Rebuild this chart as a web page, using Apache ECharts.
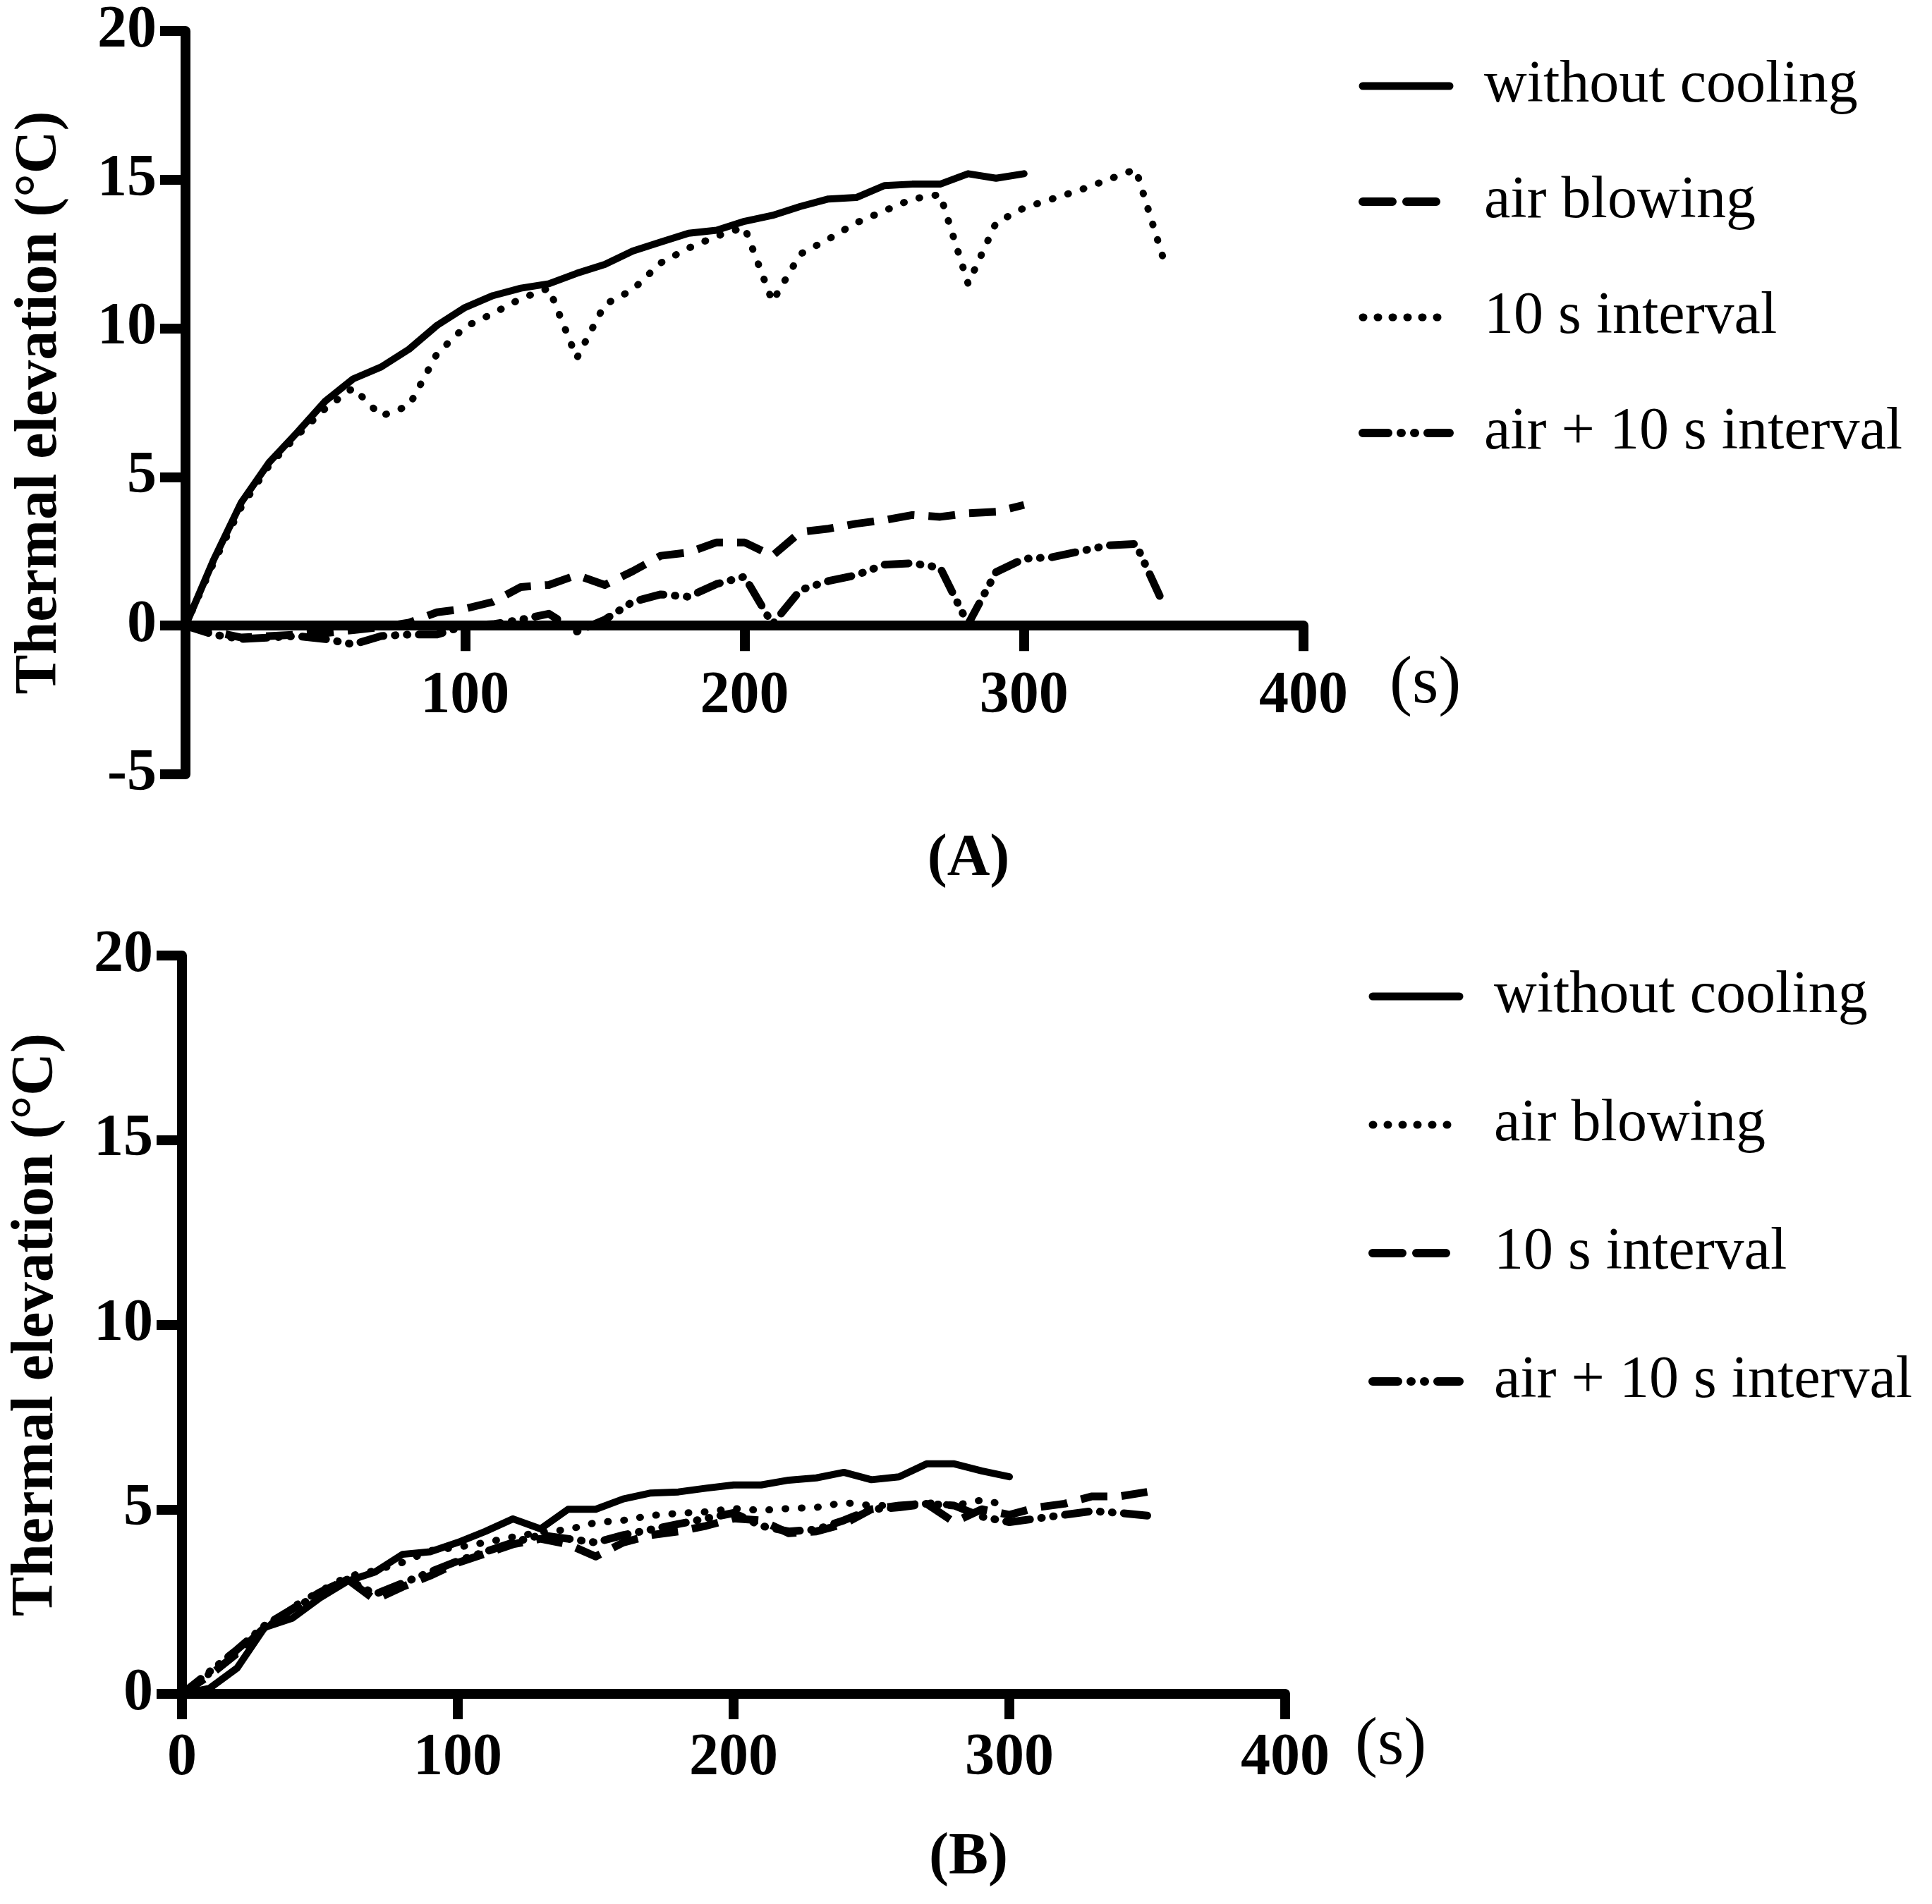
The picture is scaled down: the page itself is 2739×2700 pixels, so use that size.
<!DOCTYPE html>
<html>
<head>
<meta charset="utf-8">
<script src="https://cdn.jsdelivr.net/npm/echarts@6/dist/echarts.min.js"></script>
<style>
  html, body { margin: 0; padding: 0; background: #fff; }
  #main { width: 2739px; height: 2700px; }
</style>
</head>
<body>
<div id="main"></div>
<script>
// time points (s)
var t300 = [0, 10, 20, 30, 40, 50, 60, 70, 80, 90, 100, 110, 120, 130, 140, 150, 160, 170, 180, 190, 200,
  210, 220, 230, 240, 250, 260, 270, 280, 290, 300];
var t350 = [0, 10, 20, 30, 40, 50, 60, 70, 80, 90, 100, 110, 120, 130, 140, 150, 160, 170, 180, 190, 200,
  210, 220, 230, 240, 250, 260, 270, 280, 290, 300, 310, 320, 330, 340, 350];

// panel A
var noCoolA = [0, 2.2, 4.15, 5.5, 6.5, 7.55, 8.3, 8.7, 9.3, 10.1, 10.7, 11.1, 11.35, 11.5, 11.85, 12.15,
  12.6, 12.9, 13.2, 13.3, 13.6, 13.8, 14.1, 14.35, 14.4, 14.8, 14.85, 14.85, 15.2, 15.05, 15.2];
var airA = [0, -0.2, -0.4, -0.35, -0.3, -0.25, -0.15, -0.05, 0.1, 0.45, 0.57, 0.8, 1.3, 1.37, 1.7, 1.37,
  1.83, 2.35, 2.46, 2.8, 2.8, 2.35, 3.15, 3.26, 3.43, 3.55, 3.72, 3.66, 3.78, 3.83, 4.06];
var intA = [0, 2.1, 4.0, 5.4, 6.4, 7.3, 8.0, 7.05, 7.4, 9.15, 10.05, 10.5, 11.0, 11.35, 9.0, 10.8, 11.3,
  12.2, 12.7, 13.1, 13.4, 10.9, 12.5, 13.0, 13.55, 13.95, 14.35, 14.5, 11.5, 13.55, 14.05, 14.35, 14.65,
  15.0, 15.35, 12.3];
var airIntA = [0, -0.3, -0.45, -0.4, -0.35, -0.45, -0.63, -0.35, -0.3, -0.3, 0, 0.05, 0.2, 0.4, -0.2, 0.2,
  0.8, 1.05, 0.97, 1.4, 1.65, 0.05, 1.2, 1.5, 1.7, 2.05, 2.1, 1.95, 0.05, 1.8, 2.25, 2.3, 2.5, 2.7, 2.75, 0.7];

// panel B
var noCoolB = [0, 0.15, 0.7, 1.8, 2.05, 2.6, 3.05, 3.3, 3.78, 3.85, 4.1, 4.4, 4.74, 4.47, 5.0, 5.0, 5.28,
  5.44, 5.47, 5.57, 5.66, 5.66, 5.79, 5.85, 6.0, 5.8, 5.88, 6.23, 6.23, 6.04, 5.88];
var airB = [0, 0.55, 1.1, 1.75, 2.35, 2.78, 3.18, 3.34, 3.56, 3.88, 3.97, 4.1, 4.25, 4.38, 4.45, 4.64, 4.7,
  4.83, 4.89, 4.93, 5.02, 4.97, 5.02, 5.05, 5.18, 5.1, 5.1, 5.18, 5.1, 5.25, 5.1];
var intB = [0, 0.5, 1.1, 1.8, 2.3, 2.75, 3.1, 2.55, 2.9, 3.2, 3.55, 3.8, 4.05, 4.2, 4.05, 3.72, 4.1, 4.3,
  4.4, 4.55, 4.75, 4.7, 4.35, 4.4, 4.6, 5.0, 5.1, 5.15, 4.65, 5.0, 4.85, 5.05, 5.15, 5.35, 5.35, 5.47];
var airIntB = [0, 0.6, 1.2, 1.85, 2.3, 2.7, 3.1, 2.7, 3.0, 3.3, 3.6, 3.85, 4.1, 4.3, 4.2, 4.1, 4.3, 4.45,
  4.6, 4.75, 4.9, 4.55, 4.4, 4.45, 4.7, 5.0, 5.05, 5.15, 5.1, 4.8, 4.65, 4.75, 4.85, 4.95, 4.9, 4.83];

var legendNames = ['without cooling', 'air blowing', '10 s interval', 'air + 10 s interval'];

var FONT = 'Liberation Serif';
var solid = { type: 'solid', width: 10, color: '#000', cap: 'round', join: 'round' };
var dashed = { type: [38, 20], width: 11, color: '#000', cap: 'butt', join: 'round' };
var dotted = { type: [1, 22], width: 10, color: '#000', cap: 'round', join: 'round' };
var dashDot = { type: [34, 16, 1, 16, 1, 16], width: 11, color: '#000', cap: 'round', join: 'round' };

// legend keys (short sample of each line)
var keySolid = { type: 'solid', width: 11, color: '#000', cap: 'round' };
var keyDashed = { type: [42, 20], width: 12, color: '#000', cap: 'round', dashOffset: 0 };
var keyDotted = { type: [1, 20], width: 11, color: '#000', cap: 'round' };
var keyDashDot = { type: [36, 18, 1, 18, 1, 18], width: 12, color: '#000', cap: 'round' };

function pairs(xs, ys) {
  return ys.map(function (v, i) { return [xs[i], v]; });
}

function line(name, xi, xs, ys, style) {
  return {
    name: name,
    type: 'line',
    xAxisIndex: xi,
    yAxisIndex: xi,
    data: pairs(xs, ys),
    symbol: 'none',
    lineStyle: style,
    itemStyle: { color: '#000' },
    animation: false
  };
}

function axisX(gi, gap, nameTop, margin, offset, hideZero) {
  return {
    type: 'value', gridIndex: gi, min: 0, max: 400, interval: 100,
    position: 'bottom', offset: offset,
    name: '(s)', nameLocation: 'end', nameGap: gap,
    nameTextStyle: { fontFamily: FONT, fontSize: 96, color: '#000', align: 'left', verticalAlign: 'top',
      padding: [nameTop, 0, 0, 0] },
    axisLine: { onZero: false, lineStyle: { color: '#000', width: 14 } },
    axisTick: { show: true, length: 36, lineStyle: { color: '#000', width: 14 } },
    axisLabel: { fontFamily: FONT, fontWeight: 'bold', fontSize: 84, color: '#000', margin: margin,
      formatter: function (v) { return (hideZero && v === 0) ? '' : String(v); } },
    splitLine: { show: false }
  };
}

function axisY(gi, min) {
  return {
    type: 'value', gridIndex: gi, min: min, max: 20, interval: 5,
    name: 'Thermal elevation (°C)', nameLocation: 'middle', nameGap: 164, nameRotate: 90,
    nameTextStyle: { fontFamily: FONT, fontWeight: 'bold', fontSize: 84, color: '#000' },
    axisLine: { onZero: false, lineStyle: { color: '#000', width: 14 } },
    axisTick: { show: true, length: 36, lineStyle: { color: '#000', width: 14 } },
    axisLabel: { fontFamily: FONT, fontWeight: 'bold', fontSize: 84, color: '#000', margin: 41 },
    splitLine: { show: false }
  };
}

function legend(suffix, keys, left, top, gap) {
  return {
    orient: 'vertical', left: left, top: top,
    itemWidth: 123, itemHeight: 14, itemGap: gap,
    selectedMode: false,
    data: legendNames.map(function (n, i) {
      return { name: n + suffix, lineStyle: keys[i], itemStyle: { opacity: 0 } };
    }),
    formatter: function (n) { return n.replace(suffix, ''); },
    textStyle: { fontFamily: FONT, fontSize: 84, color: '#000', lineHeight: 90, padding: [0, 0, 0, 44] }
  };
}

var chart = echarts.init(document.getElementById('main'), null, { renderer: 'canvas' });

var option = {
  backgroundColor: '#fff',
  animation: false,
  title: [
    { text: '{p|(}{b|A}{p|)}', left: 1368, top: 1172, textAlign: 'center',
      textStyle: { rich: { p: { fontFamily: FONT, fontSize: 84, color: '#000' },
        b: { fontFamily: FONT, fontSize: 84, fontWeight: 'bold', color: '#000' } } } },
    { text: '{p|(}{b|B}{p|)}', left: 1368, top: 2588, textAlign: 'center',
      textStyle: { rich: { p: { fontFamily: FONT, fontSize: 84, color: '#000' },
        b: { fontFamily: FONT, fontSize: 84, fontWeight: 'bold', color: '#000' } } } }
  ],
  legend: [
    legend(' #A', [keySolid, keyDashed, keyDotted, keyDashDot], 1921, 72, 74),
    legend(' #B', [keySolid, keyDotted, keyDashed, keyDashDot], 1935, 1363, 92)
  ],
  grid: [
    { left: 263, top: 44, width: 1585, height: 1054, outerBoundsMode: 'none', containLabel: false },
    { left: 258, top: 1355, width: 1564, height: 1047, outerBoundsMode: 'none', containLabel: false }
  ],
  xAxis: [
    // panel A: axis sits at y = 0, i.e. 5/25 of the plot height above the bottom edge
    axisX(0, 122, 36, 59, -1054 * 5 / 25, true),
    axisX(1, 99, 26, 50, 0, false)
  ],
  yAxis: [axisY(0, -5), axisY(1, 0)],
  series: [
    line('without cooling #A', 0, t300, noCoolA, solid),
    line('air blowing #A', 0, t300, airA, dashed),
    line('10 s interval #A', 0, t350, intA, dotted),
    line('air + 10 s interval #A', 0, t350, airIntA, dashDot),
    line('without cooling #B', 1, t300, noCoolB, solid),
    line('air blowing #B', 1, t300, airB, dotted),
    line('10 s interval #B', 1, t350, intB, dashed),
    line('air + 10 s interval #B', 1, t350, airIntB, dashDot)
  ]
};

chart.setOption(option);
</script>
</body>
</html>
